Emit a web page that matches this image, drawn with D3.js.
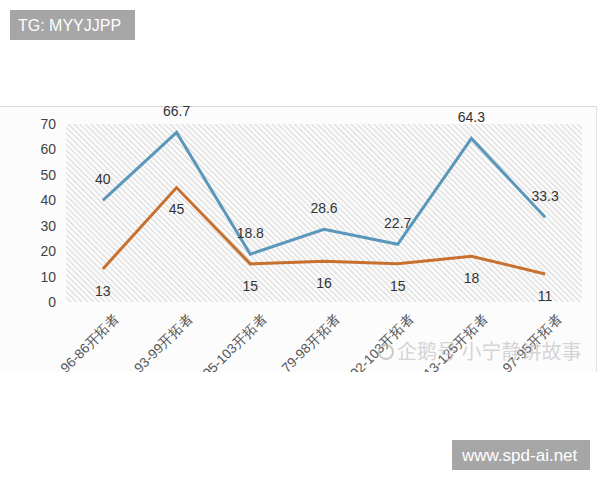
<!DOCTYPE html>
<html><head><meta charset="utf-8">
<script src="https://cdn.jsdelivr.net/npm/d3@7"></script>
<style>
html,body{margin:0;padding:0;background:#fff;}
svg{display:block;font-family:"Noto Sans CJK SC","Liberation Sans",sans-serif;}
</style></head>
<body>
<svg id="c" width="600" height="480"></svg>
<script>
const categories = ["96-86开拓者","93-99开拓者","95-103开拓者","79-98开拓者","92-103开拓者","113-125开拓者","97-95开拓者"];
const seriesBlue = [40, 66.7, 18.8, 28.6, 22.7, 64.3, 33.3];
const seriesOrange = [13, 45, 15, 16, 15, 18, 11];
const yTicks = [0, 10, 20, 30, 40, 50, 60, 70];

const svg = d3.select("#c");
const defs = svg.append("defs");
const pat = defs.append("pattern").attr("id","hatch").attr("patternUnits","userSpaceOnUse")
  .attr("width",4).attr("height",4).attr("patternTransform","rotate(-45)");
pat.append("rect").attr("width",4).attr("height",4).attr("fill","#fcfcfc");
pat.append("line").attr("x1",0.5).attr("y1",0).attr("x2",0.5).attr("y2",4)
  .attr("stroke","#dadada").attr("stroke-width",1.3);
defs.append("clipPath").attr("id","shot").append("rect")
  .attr("x",0).attr("y",106).attr("width",600).attr("height",266);

// screenshot frame
const g = svg.append("g").attr("clip-path","url(#shot)");
g.append("rect").attr("x",0).attr("y",106).attr("width",597).attr("height",266).attr("fill","#fcfcfc");
g.append("line").attr("x1",0).attr("x2",597).attr("y1",106.5).attr("y2",106.5).attr("stroke","#d8d8d8");
g.append("line").attr("x1",596.5).attr("x2",596.5).attr("y1",106).attr("y2",372).attr("stroke","#e2e2e2");

const x = d3.scaleBand().domain(categories).range([66, 582]).padding(0);
const y = d3.scaleLinear().domain([0, 70]).range([302, 124]);
const cx = c => x(c) + x.bandwidth()/2;

g.append("rect").attr("x",66).attr("y",y(70)).attr("width",582-66).attr("height",y(0)-y(70)).attr("fill","url(#hatch)");

// y axis
const ya = g.append("g").attr("transform","translate(56,0)")
  .call(d3.axisLeft(y).tickValues(yTicks).tickSize(0).tickPadding(0));
ya.select(".domain").remove();
ya.selectAll("text").attr("font-size",14).attr("fill","#444").attr("font-family","Liberation Sans, sans-serif");

// x axis labels
const xa = g.append("g").attr("transform","translate(0,302)")
  .call(d3.axisBottom(x).tickSize(0).tickPadding(0));
xa.select(".domain").remove();
xa.selectAll("text").attr("font-size",13.5).attr("fill","#555")
  .attr("text-anchor","end").attr("dy","0.35em")
  .attr("transform","translate(14,14) rotate(-45)");

const line = d3.line().x((d,i)=>cx(categories[i])).y(d=>y(d));
g.append("path").datum(seriesOrange).attr("d",line).attr("fill","none")
  .attr("stroke","#c8702e").attr("stroke-width",3).attr("stroke-linejoin","miter");
g.append("path").datum(seriesBlue).attr("d",line).attr("fill","none")
  .attr("stroke","#5b97bb").attr("stroke-width",3).attr("stroke-linejoin","miter");

g.selectAll("text.lb").data(seriesBlue).enter().append("text").attr("class","lb")
  .attr("x",(d,i)=>cx(categories[i])).attr("y",d=>y(d)-21).attr("dy","0.35em")
  .attr("text-anchor","middle").attr("font-size",14).attr("fill","#333")
  .attr("font-family","Liberation Sans, sans-serif").text(d=>d);
g.selectAll("text.lo").data(seriesOrange).enter().append("text").attr("class","lo")
  .attr("x",(d,i)=>cx(categories[i])).attr("y",d=>y(d)+22).attr("dy","0.35em")
  .attr("text-anchor","middle").attr("font-size",14).attr("fill","#333")
  .attr("font-family","Liberation Sans, sans-serif").text(d=>d);

// watermark
g.append("circle").attr("cx",386).attr("cy",352).attr("r",7).attr("fill","none")
  .attr("stroke","rgba(170,170,170,0.6)").attr("stroke-width",2);
g.append("text").attr("x",397).attr("y",352).attr("dy","0.35em").attr("font-size",20)
  .attr("fill","rgba(195,195,195,0.7)").text("企鹅号 小宁静讲故事");

// overlay boxes
svg.append("rect").attr("x",10).attr("y",10).attr("width",125).attr("height",30).attr("fill","#a6a6a6");
svg.append("text").attr("x",18).attr("y",25).attr("dy","0.35em").attr("font-size",16)
  .attr("fill","#fff").attr("font-family","Liberation Sans, sans-serif").text("TG: MYYJJPP");
svg.append("rect").attr("x",452).attr("y",440).attr("width",138).attr("height",30).attr("fill","#a6a6a6");
svg.append("text").attr("x",462).attr("y",455).attr("dy","0.35em").attr("font-size",17)
  .attr("fill","#fff").attr("font-family","Liberation Sans, sans-serif").text("www.spd-ai.net");
</script>
</body></html>
